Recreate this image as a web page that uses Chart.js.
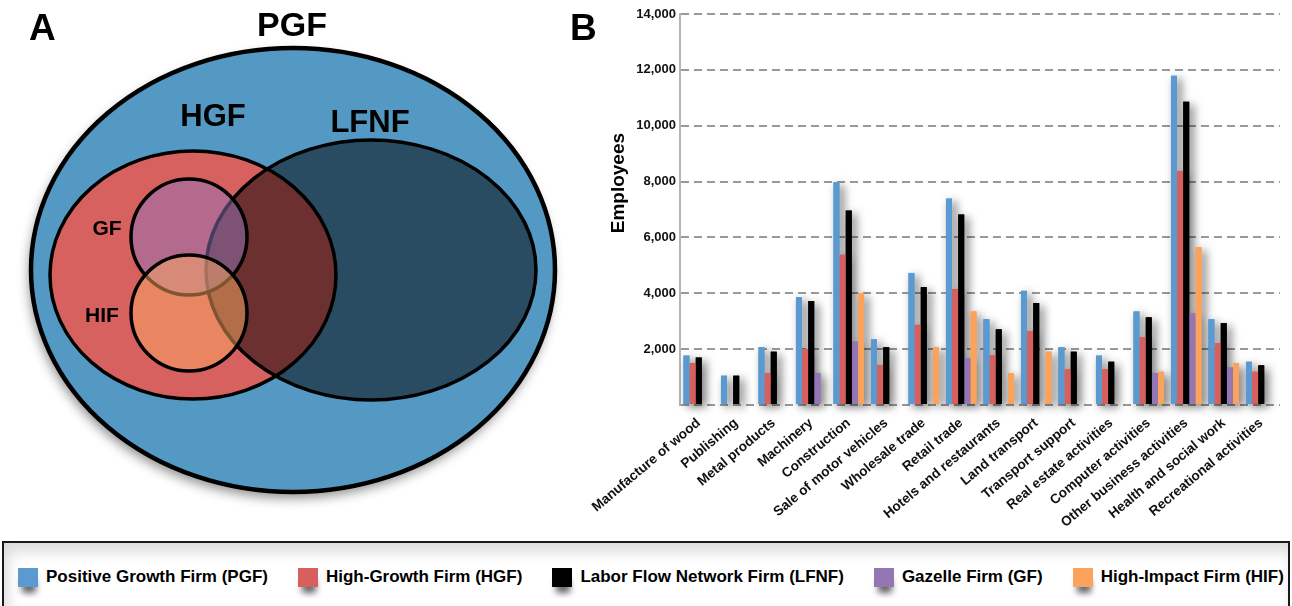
<!DOCTYPE html>
<html>
<head>
<meta charset="utf-8">
<script src="https://cdn.jsdelivr.net/npm/chart.js@4.4.1/dist/chart.umd.min.js"></script>
<style>
  html, body { margin: 0; padding: 0; background: #fff; }
  body { width: 1292px; height: 606px; position: relative; overflow: hidden;
         font-family: "Liberation Sans", Arial, Helvetica, sans-serif; }
  .panel { position: absolute; font-weight: bold; font-size: 37px; line-height: 37px; color: #000; z-index: 2; }
  #vennBox { position: absolute; left: 0; top: 0; width: 580px; height: 520px; }
  #barBox { position: absolute; left: 570px; top: 0; width: 722px; height: 535px; }
  #legend { position: absolute; left: 2px; top: 541px; width: 1288px; height: 80px;
            border: 2px solid #1a1a1a; background: #fff;
            box-shadow: inset 4px 9px 14px rgba(0,0,0,0.14);
            display: flex; align-items: flex-start; padding: 24px 0 0 14px; box-sizing: border-box; }
  #legend .item { display: flex; align-items: center; margin-right: 30px;
                  font-weight: bold; font-size: 17px; line-height: 20px; color: #000; white-space: nowrap; }
  #legend .sw { width: 20px; height: 19px; margin-right: 8px;
                box-shadow: 1px 9px 6px -3px rgba(0,0,0,0.6); }
</style>
</head>
<body>
<div class="panel" style="left:29px; top:9px;">A</div>
<div class="panel" style="left:570px; top:9px;">B</div>
<div id="vennBox"><canvas id="venn" width="580" height="520"></canvas></div>
<div id="barBox"><canvas id="bars" width="722" height="535"></canvas></div>
<div id="legend"></div>

<script>
// Panel B data (employees per sector)
const categories = ['Manufacture of wood', 'Publishing', 'Metal products', 'Machinery', 'Construction',
  'Sale of motor vehicles', 'Wholesale trade', 'Retail trade', 'Hotels and restaurants', 'Land transport',
  'Transport support', 'Real estate activities', 'Computer activities', 'Other business activities',
  'Health and social work', 'Recreational activities'];
const pgfValues  = [1770, 1050, 2070, 3860, 7980, 2350, 4730, 7390, 3070, 4090, 2070, 1770, 3350, 11790, 3070, 1550];
const hgfValues  = [1500, 0, 1140, 2000, 5380, 1430, 2870, 4150, 1780, 2650, 1280, 1280, 2430, 8380, 2210, 1190];
const lfnfValues = [1700, 1050, 1910, 3720, 6960, 2070, 4220, 6820, 2710, 3650, 1910, 1550, 3140, 10860, 2930, 1420];
const gfValues   = [0, 0, 0, 1140, 2270, 0, 0, 1680, 0, 0, 0, 0, 1140, 3280, 1340, 0];
const hifValues  = [0, 0, 0, 0, 4000, 0, 2070, 3350, 1140, 1910, 0, 0, 1190, 5650, 1500, 0];
const seriesNames = ['Positive Growth Firm (PGF)', 'High-Growth Firm (HGF)', 'Labor Flow Network Firm (LFNF)',
  'Gazelle Firm (GF)', 'High-Impact Firm (HIF)'];
const yTicks = [0, 2000, 4000, 6000, 8000, 10000, 12000, 14000];

// Panel A: the sets of the Venn diagram, in the diagram's own units
const vennSets = ['PGF', 'HGF', 'LFNF', 'GF', 'HIF'];
const vennCx = [293, 193, 371, 189, 189];
const vennCy = [270, 275, 270, 237, 313];
const vennRx = [262, 143, 165, 58, 58];
const vennRy = [222, 124, 130, 58, 58];
const vennLabelX = [292, 213, 370, 107, 102];
const vennLabelY = [27, 117, 123, 229, 316];

const FONT = '"Liberation Sans", Arial, Helvetica, sans-serif';
const barColors = ['#5A9AD1', '#D7605E', '#000000', '#9476B5', '#FBA25C'];
const vennFills = ['#5399C4', '#D6615F', 'rgba(0,0,0,0.5)', 'rgba(144,115,185,0.5)', 'rgba(252,169,97,0.5)'];
const vennFont = [34, 31, 31, 21, 21];

// draws the ellipses of the venn through the chart scales
const vennPlugin = {
  id: 'venn',
  afterDatasetsDraw(chart) {
    const ctx = chart.ctx;
    const xs = chart.scales.x, ys = chart.scales.y;
    vennSets.forEach((name, i) => {
      let cx = xs.getPixelForValue(vennCx[i]);
      let cy = ys.getPixelForValue(vennCy[i]);
      let rx = Math.abs(xs.getPixelForValue(vennCx[i] + vennRx[i]) - cx);
      let ry = Math.abs(ys.getPixelForValue(vennCy[i] + vennRy[i]) - cy);
      ctx.save();
      if (i === 0) {
        ctx.shadowColor = 'rgba(0,0,0,0.45)';
        ctx.shadowBlur = 12;
        ctx.shadowOffsetX = -2;
        ctx.shadowOffsetY = 6;
      }
      ctx.beginPath();
      ctx.ellipse(cx, cy, rx, ry, 0, 0, Math.PI * 2);
      ctx.fillStyle = vennFills[i];
      ctx.fill();
      ctx.shadowColor = 'transparent';
      ctx.lineWidth = i === 0 ? 4.5 : 3.5;
      ctx.strokeStyle = '#000';
      ctx.stroke();
      ctx.restore();
    });
    ctx.save();
    ctx.fillStyle = '#000';
    ctx.textAlign = 'center';
    ctx.textBaseline = 'middle';
    vennSets.forEach((name, i) => {
      ctx.font = 'bold ' + vennFont[i] + 'px ' + FONT;
      ctx.fillText(name, xs.getPixelForValue(vennLabelX[i]), ys.getPixelForValue(vennLabelY[i]));
    });
    ctx.restore();
  }
};

new Chart(document.getElementById('venn'), {
  type: 'scatter',
  data: { datasets: [] },
  options: {
    animation: false,
    responsive: false,
    devicePixelRatio: 1,
    layout: { padding: 0 },
    plugins: { legend: { display: false }, tooltip: { enabled: false } },
    scales: {
      x: { display: false, min: 0, max: 580 },
      y: { display: false, min: 0, max: 520, reverse: true }
    }
  },
  plugins: [vennPlugin]
});

// shadows under the bars, drawn before any bar so no bar shades its neighbour
const barShadow = {
  id: 'barShadow',
  beforeDatasetsDraw(chart) {
    const ctx = chart.ctx;
    ctx.save();
    ctx.shadowColor = 'rgba(0,0,0,0.6)';
    ctx.shadowBlur = 10;
    ctx.shadowOffsetX = 4;
    ctx.shadowOffsetY = 3;
    chart.data.datasets.forEach((ds, i) => {
      chart.getDatasetMeta(i).data.forEach(bar => {
        const p = bar.getProps(['x', 'y', 'base', 'width']);
        if (Math.abs(p.base - p.y) < 1) return;
        ctx.fillStyle = ds.backgroundColor;
        ctx.fillRect(p.x - p.width / 2, p.y, p.width, p.base - p.y);
      });
    });
    ctx.restore();
  }
};

// soft shading under the grid lines
const gridShadow = {
  id: 'gridShadow',
  beforeDraw(chart) {
    const ctx = chart.ctx, ys = chart.scales.y, area = chart.chartArea;
    ctx.save();
    ctx.shadowColor = 'rgba(0,0,0,0.14)';
    ctx.shadowBlur = 8;
    ctx.shadowOffsetY = 7;
    ctx.strokeStyle = 'rgba(0,0,0,0.02)';
    ctx.lineWidth = 2;
    ys.ticks.forEach(t => {
      const y = ys.getPixelForValue(t.value);
      ctx.beginPath();
      ctx.moveTo(area.left, y);
      ctx.lineTo(area.right, y);
      ctx.stroke();
    });
    ctx.restore();
  }
};

const seriesData = [pgfValues, hgfValues, lfnfValues, gfValues, hifValues];

const barChart = new Chart(document.getElementById('bars'), {
  type: 'bar',
  data: {
    labels: categories,
    datasets: seriesNames.map((name, i) => ({
      label: name,
      data: seriesData[i],
      backgroundColor: barColors[i],
      borderWidth: 0
    }))
  },
  options: {
    animation: false,
    responsive: false,
    devicePixelRatio: 1,
    layout: { padding: { top: 14, right: 12, left: 0, bottom: 0 } },
    datasets: { bar: { categoryPercentage: 0.82, barPercentage: 0.97 } },
    plugins: { legend: { display: false }, tooltip: { enabled: false } },
    scales: {
      x: {
        grid: { display: false },
        border: { display: false },
        ticks: {
          autoSkip: false, minRotation: 40, maxRotation: 40, padding: 2,
          color: '#111', font: { family: FONT, weight: 'bold', size: 13.6 }
        },
        afterFit: s => { s.height = 130; }
      },
      y: {
        min: 0, max: 14000,
        afterBuildTicks: s => { s.ticks = yTicks.map(v => ({ value: v })); },
        ticks: {
          padding: 4, color: '#111', font: { family: FONT, weight: 'bold', size: 13 },
          callback: v => v === 0 ? '' : v.toLocaleString('en-US')
        },
        grid: { color: '#999', lineWidth: 2, drawTicks: false },
        border: { display: true, color: '#b5b5b5', width: 2, dash: [8, 5] },
        title: {
          // leading spaces lift the word towards the top, as in the original
          display: true, text: '          Employees', color: '#000',
          font: { family: FONT, weight: 'bold', size: 19 },
          padding: { top: 37, bottom: 0 }
        },
        afterFit: s => { s.width = 110; }
      }
    }
  },
  plugins: [barShadow, gridShadow]
});

// legend built from the chart's datasets
const legendEl = document.getElementById('legend');
barChart.data.datasets.forEach(ds => {
  const item = document.createElement('div');
  item.className = 'item';
  const sw = document.createElement('span');
  sw.className = 'sw';
  sw.style.background = ds.backgroundColor;
  const txt = document.createElement('span');
  txt.textContent = ds.label;
  item.appendChild(sw);
  item.appendChild(txt);
  legendEl.appendChild(item);
});
</script>
</body>
</html>
